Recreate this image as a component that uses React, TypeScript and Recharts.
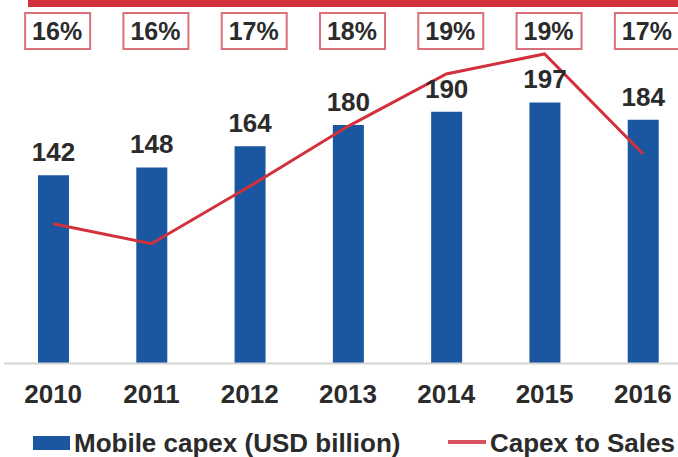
import React from "react";
import {
  ComposedChart,
  Bar,
  Line,
  XAxis,
  YAxis,
  LabelList,
  Legend,
} from "recharts";

const years = ["2010", "2011", "2012", "2013", "2014", "2015", "2016"];
const mobileCapex = [142, 148, 164, 180, 190, 197, 184];
const capexToSales = [16.0, 15.6, 16.75, 17.95, 19.0, 19.4, 17.4];

const data = years.map((year, i) => ({
  year,
  capex: mobileCapex[i],
  ratio: capexToSales[i],
}));

const FONT = "'Liberation Sans', Arial, sans-serif";
const TEXT = "#2b2b2b";
const BLUE = "#1b56a0";
const RED = "#d2313c";

// boxed % labels in a row along the top
const RatioBox = (props: any) => {
  const { x, value } = props;
  if (x == null) return null;
  const cx = x + 4;
  return (
    <g>
      <rect
        x={cx - 32}
        y={13}
        width={65}
        height={36}
        fill="#fff"
        stroke="#d9707a"
        strokeWidth={2}
      />
      <text
        x={cx}
        y={40}
        textAnchor="middle"
        fontFamily={FONT}
        fontWeight="bold"
        fontSize={25}
        fill={TEXT}
      >
        {Math.round(value)}%
      </text>
    </g>
  );
};

const LegendContent = () => (
  <div style={{ position: "relative", width: 678, height: 32, fontFamily: FONT }}>
    <div
      style={{
        position: "absolute",
        left: 33,
        top: 11,
        width: 37,
        height: 14,
        background: BLUE,
      }}
    />
    <span
      style={{
        position: "absolute",
        left: 74,
        top: 3,
        lineHeight: "30px",
        fontSize: 26,
        fontWeight: "bold",
        color: TEXT,
        whiteSpace: "nowrap",
      }}
    >
      Mobile capex (USD billion)
    </span>
    <div
      style={{
        position: "absolute",
        left: 448,
        top: 15,
        width: 38,
        height: 4,
        background: "#d9535e",
      }}
    />
    <span
      style={{
        position: "absolute",
        left: 490,
        top: 3,
        lineHeight: "30px",
        fontSize: 26,
        fontWeight: "bold",
        color: TEXT,
        whiteSpace: "nowrap",
      }}
    >
      Capex to Sales
    </span>
  </div>
);

export default function App() {
  return (
    <div
      style={{
        position: "fixed",
        top: 0,
        left: 0,
        width: 678,
        height: 457,
        overflow: "hidden",
        background: "#fff",
      }}
    >
      <div
        style={{
          position: "absolute",
          top: 0,
          left: 28,
          width: 650,
          height: 7,
          background: RED,
        }}
      />
      <ComposedChart
        width={700}
        height={457}
        data={data}
        margin={{ top: 19, right: 8, left: 4, bottom: 33.5 }}
      >
        <XAxis
          dataKey="year"
          height={60}
          tickLine={false}
          tickMargin={15}
          axisLine={{ stroke: "#d4d4d4", strokeWidth: 2 }}
          tick={{
            fontSize: 26,
            fontWeight: "bold",
            fill: TEXT,
            fontFamily: FONT,
          }}
          interval={0}
        />
        <YAxis yAxisId="capex" hide domain={[0, 260]} />
        <YAxis yAxisId="ratio" hide orientation="right" domain={[13.2, 20.1]} />
        <Legend
          verticalAlign="middle"
          layout="horizontal"
          wrapperStyle={{ top: 425, left: 0, width: 678 }}
          content={LegendContent}
        />
        <Bar
          yAxisId="capex"
          dataKey="capex"
          fill={BLUE}
          barSize={31}
          isAnimationActive={false}
        >
          <LabelList
            dataKey="capex"
            position="top"
            offset={14}
            style={{
              fontSize: 26,
              fontWeight: "bold",
              fill: TEXT,
              fontFamily: FONT,
            }}
          />
        </Bar>
        <Line
          yAxisId="ratio"
          dataKey="ratio"
          type="linear"
          stroke={RED}
          strokeWidth={3}
          dot={false}
          activeDot={false}
          isAnimationActive={false}
        >
          <LabelList dataKey="ratio" content={RatioBox} />
        </Line>
      </ComposedChart>
    </div>
  );
}
